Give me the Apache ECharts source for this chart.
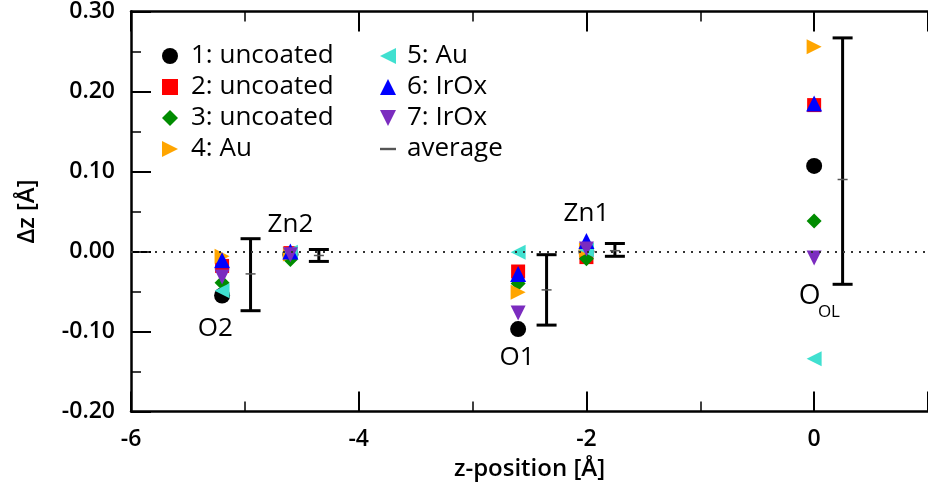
<!doctype html>
<html>
<head>
    <meta charset="UTF-8">
    <script src="https://cdn.jsdelivr.net/npm/echarts@6/dist/echarts.min.js"></script>
    <style>
        html, body { margin: 0; padding: 0; background: #fff; }
        #total { width: 928px; height: 492px; }
    </style>
</head>
<body>
<div id="total"></div>
<script type="text/javascript">
    // site positions (z) and displacement of each sample
    var sites = ['O2', 'Zn2', 'O1', 'Zn1', 'OOL'];
    var sitePos = [-5.2, -4.6, -2.6, -2.0, 0];
    var s1 = [-0.055, -0.004, -0.097, 0.000, 0.107];
    var s2 = [-0.018, -0.002, -0.025, -0.007, 0.183];
    var s3 = [-0.039, -0.010, -0.040, -0.009, 0.038];
    var s4 = [-0.006, -0.003, -0.051, 0.002, 0.256];
    var s5 = [-0.049, -0.001, -0.001, 0.002, -0.134];
    var s6 = [-0.011, 0.000, -0.028, 0.013, 0.185];
    var s7 = [-0.032, -0.004, -0.077, 0.003, -0.008];
    // average with error bars, drawn next to each site
    var avgPos = [-4.95, -4.35, -2.35, -1.75, 0.25];
    var avgVal = [-0.028, -0.005, -0.048, 0.001, 0.090];
    var errLow = [-0.074, -0.0124, -0.092, -0.006, -0.041];
    var errHigh = [0.016, 0.0025, -0.004, 0.010, 0.267];
    // text labels for the sites [x, y, text]
    var annots = [[-4.6, 0.034, 'Zn2'], [-5.26, -0.096, 'O2'], [-2.61, -0.133, 'O1'], [-2.0, 0.048, 'Zn1']];
    var annotO = [[-0.04, -0.056, 'O']];
    var annotSub = [[0.13, -0.076, 'OL']];

    var fontName = '"Open Sans", "DejaVu Sans", sans-serif';

    function pts(vals) {
        return vals.map(function (v, i) { return [sitePos[i], v]; });
    }

    var triRight = 'path://M0,0 L10,5 L0,10 Z';
    var triLeft = 'path://M10,0 L0,5 L10,10 Z';
    var triDown = 'path://M0,0 L10,0 L5,10 Z';
    var triUp = 'path://M5,0 L10,10 L0,10 Z';

    var myCharts = echarts.init(document.getElementById('total'));

    function xAx(pos) {
        return {
            type: 'value', position: pos, min: -6, max: 1, interval: 2,
            axisLine: { show: true, onZero: false, lineStyle: { color: '#000', width: 2.5 } },
            axisTick: { show: true, inside: true, length: 20, lineStyle: { color: '#000', width: 2 } },
            minorTick: { show: true, splitNumber: 2, length: 10, lineStyle: { color: '#000', width: 1.5 } },
            splitLine: { show: false },
            axisLabel: {
                show: pos === 'bottom', showMaxLabel: false, margin: 16,
                color: '#000', fontSize: 23, fontFamily: fontName, fontWeight: 600
            },
            name: pos === 'bottom' ? 'z-position [Å]' : '',
            nameLocation: 'middle', nameGap: 46,
            nameTextStyle: { color: '#000', fontSize: 24, fontFamily: fontName, fontWeight: 600 }
        };
    }

    var scatterBase = function (name, vals, symbol, size, color) {
        return {
            name: name, type: 'scatter', data: pts(vals),
            symbol: symbol, symbolSize: size, xAxisIndex: 0,
            itemStyle: { color: color, opacity: 1 }
        };
    };

    var labelText = function (data, size) {
        return {
            type: 'scatter', data: data, symbolSize: 0, silent: true,
            itemStyle: { opacity: 1 },
            label: {
                show: true, position: 'inside', formatter: function (p) { return p.value[2]; },
                color: '#000', opacity: 1, fontSize: size, fontFamily: fontName
            }
        };
    };

    var options = {
        animation: false,
        backgroundColor: '#fff',
        grid: { left: 131, right: 0, top: 9.5, bottom: 80.5 },
        legend: [{
            left: 157, top: 38, orient: 'vertical', itemGap: 5,
            itemWidth: 16, itemHeight: 16,
            data: ['1: uncoated', '2: uncoated', '3: uncoated', '4: Au'],
            textStyle: { color: '#000', fontSize: 26, fontFamily: fontName, lineHeight: 26, padding: [0, 0, 0, 8] }
        }, {
            left: 375, top: 38, orient: 'vertical', itemGap: 5,
            itemWidth: 16, itemHeight: 16,
            data: ['5: Au', '6: IrOx', '7: IrOx',
                { name: 'average', icon: 'path://M0,4 L10,4 L10,5.5 L0,5.5 Z' }],
            textStyle: { color: '#000', fontSize: 26, fontFamily: fontName, lineHeight: 26, padding: [0, 0, 0, 6] }
        }],
        xAxis: [xAx('bottom'), xAx('top')],
        yAxis: {
            type: 'value', min: -0.2, max: 0.3, interval: 0.1,
            axisLine: { show: true, onZero: false, lineStyle: { color: '#000', width: 2.5 } },
            axisTick: { show: true, inside: true, length: 20, lineStyle: { color: '#000', width: 2 } },
            minorTick: { show: true, splitNumber: 2, length: 10, lineStyle: { color: '#000', width: 1.5 } },
            splitLine: { show: false },
            axisLabel: {
                margin: 16, color: '#000', fontSize: 23, fontFamily: fontName, fontWeight: 600,
                formatter: function (v) { return v.toFixed(2); }
            },
            name: 'Δz [Å]', nameLocation: 'middle', nameGap: 92,
            nameTextStyle: { color: '#000', fontSize: 24, fontFamily: fontName, fontWeight: 600 }
        },
        series: [
            scatterBase('1: uncoated', s1, 'circle', 16, '#000000'),
            scatterBase('2: uncoated', s2, 'rect', 14, '#ff0000'),
            scatterBase('3: uncoated', s3, 'diamond', 15, '#008c00'),
            scatterBase('4: Au', s4, triRight, 15, '#ffa500'),
            scatterBase('5: Au', s5, triLeft, 15, '#40e0d0'),
            scatterBase('6: IrOx', s6, triUp, 16, '#0000ff'),
            scatterBase('7: IrOx', s7, triDown, 15, '#7b2cbf'),
            {
                name: 'average', type: 'scatter', symbol: 'rect', symbolSize: [10, 1.5],
                itemStyle: { color: '#555', opacity: 1 }, z: 4,
                data: avgPos.map(function (x, i) { return [x, avgVal[i]]; }),
                markLine: {
                    silent: true, symbol: 'none', label: { show: false },
                    lineStyle: { color: '#333', type: [2, 6], width: 2 },
                    data: [{ yAxis: 0 }]
                }
            },
            {
                type: 'custom', silent: true, z: 3,
                data: avgPos.map(function (x, i) { return [x, errLow[i], errHigh[i]]; }),
                encode: { x: 0, y: [1, 2] },
                renderItem: function (params, api) {
                    var top = api.coord([api.value(0), api.value(2)]);
                    var bot = api.coord([api.value(0), api.value(1)]);
                    var w = 10;
                    var st = { stroke: '#000', lineWidth: 3 };
                    return {
                        type: 'group', children: [
                            { type: 'line', shape: { x1: top[0], y1: top[1], x2: bot[0], y2: bot[1] }, style: st },
                            { type: 'line', shape: { x1: top[0] - w, y1: top[1], x2: top[0] + w, y2: top[1] }, style: st },
                            { type: 'line', shape: { x1: bot[0] - w, y1: bot[1], x2: bot[0] + w, y2: bot[1] }, style: st }
                        ]
                    };
                }
            },
            labelText(annots, 26),
            labelText(annotO, 28),
            labelText(annotSub, 17)
        ]
    };

    myCharts.setOption(options);
</script>
</body>
</html>
